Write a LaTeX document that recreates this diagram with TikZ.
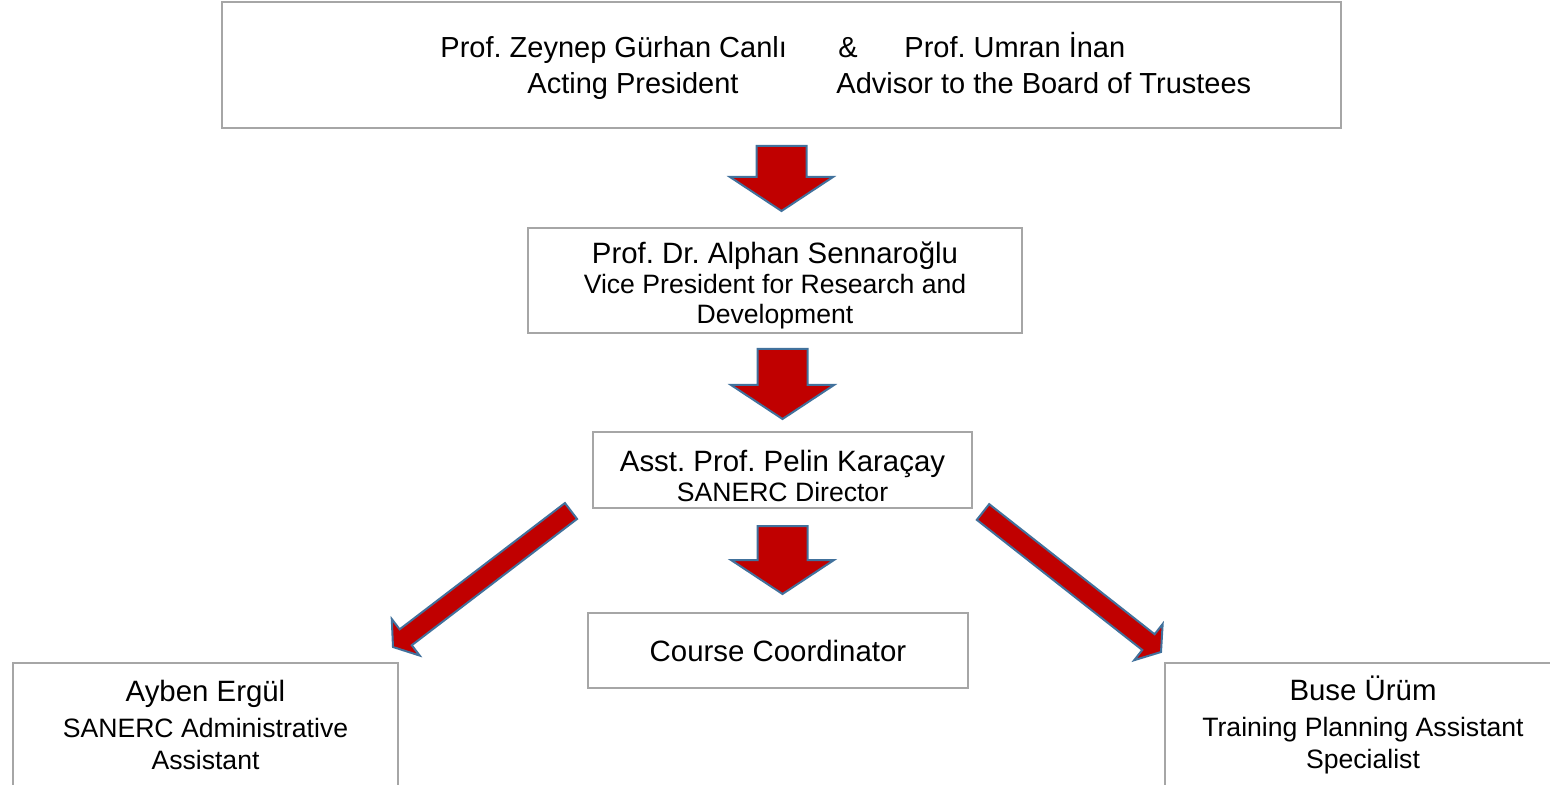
\documentclass[tikz,border=0pt]{standalone}
\usepackage{fontspec}
\setmainfont{Liberation Sans}
\usetikzlibrary{calc}

\definecolor{boxgray}{RGB}{166,166,166}
\definecolor{arrowred}{RGB}{192,0,0}
\definecolor{arrowblue}{RGB}{65,113,156}

\newcommand{\namefont}{\fontsize{14.7}{15}\selectfont}
\newcommand{\rolefont}{\fontsize{13.3}{15}\selectfont}
\newcommand{\topgap}[1]{\rule{0pt}{#1}}
\frenchspacing

\tikzset{
  person/.style={draw=boxgray, line width=1pt, inner sep=0pt, align=center, font=\rolefont},
  plain/.style={anchor=base west, inner sep=0pt, font=\fontsize{14.5}{15}\selectfont},
  blockarrow/.style={draw=arrowblue, fill=arrowred, line width=1pt, line join=miter},
}

% red block arrow: tail, tip, half shaft, half head, head length
\newcommand{\redarrow}[5]{%
  \coordinate (shoulder) at ($(#2)!#5!(#1)$);
  \draw[blockarrow] ($(#1)!#3!90:(#2)$) -- ($(shoulder)!#3!90:(#2)$)
    -- ($(shoulder)!#4!90:(#2)$) -- (#2) -- ($(shoulder)!#4!-90:(#2)$)
    -- ($(shoulder)!#3!-90:(#2)$) -- ($(#1)!#3!-90:(#2)$) -- cycle;
}

\begin{document}
\begin{tikzpicture}[x=0.5pt, y=-0.5pt]
  \path[use as bounding box, clip] (0,0) rectangle (1550,785);

  % boxes
  \node[person, minimum width=559.5pt, minimum height=63pt] (board) at (781.5,65) {};
  \node[plain] (zeynep) at (440,58) {Prof. Zeynep Gürhan Canlı};
  \node[plain] (amp) at (838,58) {\&};
  \node[plain] (umran) at (904,58) {Prof. Umran İnan};
  \node[plain] (acting) at (527,94) {Acting President};
  \node[plain] (advisor) at (836,94) {Advisor to the Board of Trustees};

  \node[person, minimum width=247pt, minimum height=52.5pt] (vp) at (775,280.5)
    {{\namefont\topgap{15.5pt}Prof. Dr. Alphan Sennaroğlu}\\ Vice President for Research and\\ Development};
  \node[person, minimum width=189.5pt, minimum height=38pt] (director) at (782.5,470)
    {{\namefont\topgap{17pt}Asst. Prof. Pelin Karaçay}\\ SANERC Director};
  \node[person, minimum width=190pt, minimum height=37.5pt, font=\namefont] (course) at (778,650.5)
    {Course Coordinator};
  \node[person, minimum width=192.5pt, minimum height=61.75pt] (ayben) at (205.5,724.75)
    {{\namefont Ayben Ergül}\\[3pt] SANERC Administrative\\[1pt] Assistant};
  \node[person, minimum width=198pt, minimum height=61.75pt] (buse) at (1363,724.75)
    {{\namefont Buse Ürüm}\\[3pt] Training Planning Assistant\\[1pt] Specialist};

  % arrows
  \coordinate (a1tail) at ($(board.south)+(0,17)$);
  \coordinate (a1tip) at ($(board.south |- vp.north)+(0,-16)$);
  \coordinate (a2tail) at ($(vp.south -| director.north)+(0,15)$);
  \coordinate (a2tip) at ($(director.north)+(0,-12)$);
  \coordinate (a3tail) at ($(director.south)+(0,17)$);
  \coordinate (a3tip) at ($(director.south |- course.north)+(0,-18)$);
  \coordinate (a4tail) at ($(director.south west)+(-21,2)$);
  \coordinate (a4tip) at ($(ayben.north east)+(-6,-15)$);
  \coordinate (a5tail) at ($(director.south east)+(10,3)$);
  \coordinate (a5tip) at ($(buse.north west)+(-3,-10)$);

  \redarrow{a1tail}{a1tip}{12.5pt}{25.75pt}{17pt}
  \redarrow{a2tail}{a2tip}{12.5pt}{25.75pt}{17pt}
  \redarrow{a3tail}{a3tip}{12.5pt}{25.75pt}{17pt}
  \redarrow{a4tail}{a4tip}{5pt}{11.5pt}{8pt}
  \redarrow{a5tail}{a5tip}{5pt}{11.5pt}{8pt}
\end{tikzpicture}
\end{document}
